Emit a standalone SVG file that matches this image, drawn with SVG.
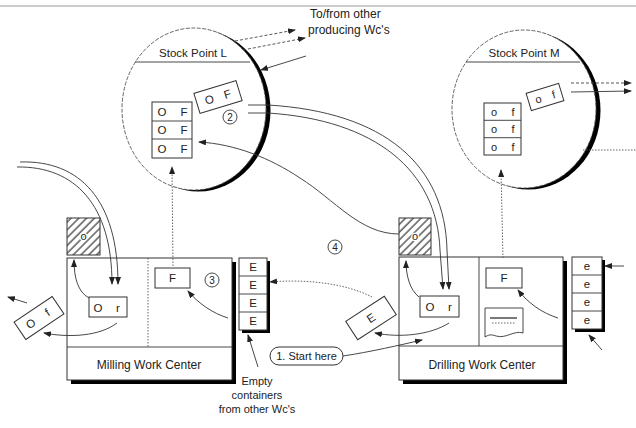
<svg xmlns="http://www.w3.org/2000/svg" width="636" height="428" viewBox="0 0 636 428">
<style>
text{font-family:"Liberation Sans",Arial,sans-serif;fill:#222;}
.lbl{font-size:11.5px;}
.big{font-size:12px;}
.sm{font-size:11px;}
.box{fill:#fff;stroke:#333;stroke-width:1;}
.ln{fill:none;stroke:#333;stroke-width:0.9;}
.dash{fill:none;stroke:#444;stroke-width:0.9;stroke-dasharray:3 2;}
.dot{fill:none;stroke:#555;stroke-width:0.9;stroke-dasharray:1.5 1.5;}
.shadow{fill:#000;}
.num{fill:#fff;stroke:#333;stroke-width:0.9;}
.hl{paint-order:stroke;stroke:#fff;stroke-width:2.5px;}
</style>
<defs>
<marker id="ah" markerUnits="userSpaceOnUse" markerWidth="8" markerHeight="6" refX="7" refY="3" orient="auto">
<path d="M0,0 L8,3 L0,6 z" fill="#222"/>
</marker>
<pattern id="hatch" patternUnits="userSpaceOnUse" width="5.5" height="5.5" patternTransform="rotate(45)">
<rect width="5.5" height="5.5" fill="#fff"/>
<line x1="1" y1="0" x2="1" y2="5.5" stroke="#222" stroke-width="1.1"/>
</pattern>
</defs>
<rect width="636" height="428" fill="#fff"/>
<line x1="0" y1="6" x2="636" y2="6" stroke="#999" stroke-width="1.2"/>

<g id="text-tofrom">
<text class="big" x="310" y="18">To/from other</text>
<text class="big" x="308" y="34">producing Wc's</text>
</g>

<g id="stock-point-l">
<ellipse cx="198.5" cy="110.5" rx="72" ry="81" class="shadow"/>
<ellipse cx="194" cy="109" rx="72" ry="81" fill="#fff" stroke="#555" stroke-width="0.9" stroke-dasharray="4 1.5"/>
<line x1="135" y1="62" x2="250" y2="62" class="ln"/>
<text class="lbl" x="193" y="57" text-anchor="middle">Stock Point L</text>
<rect x="152" y="102" width="40" height="56" class="box"/>
<line x1="152" y1="121" x2="192" y2="121" class="ln"/>
<line x1="152" y1="139" x2="192" y2="139" class="ln"/>
<text class="lbl" x="162" y="116" text-anchor="middle">O</text>
<text class="lbl" x="184" y="116" text-anchor="middle">F</text>
<text class="lbl" x="162" y="134" text-anchor="middle">O</text>
<text class="lbl" x="184" y="134" text-anchor="middle">F</text>
<text class="lbl" x="162" y="153" text-anchor="middle">O</text>
<text class="lbl" x="184" y="153" text-anchor="middle">F</text>
<g transform="translate(218,97) rotate(-17)">
<rect x="-22" y="-10.5" width="44" height="21" class="box"/>
<text class="lbl" x="-9" y="4" text-anchor="middle">O</text>
<text class="lbl" x="10" y="4" text-anchor="middle">F</text>
</g>
<circle cx="230" cy="117" r="7" class="num"/>
<text x="230" y="121" font-size="10" text-anchor="middle">2</text>
</g>

<g id="stock-point-m">
<ellipse cx="528.5" cy="110.5" rx="72" ry="79" class="shadow"/>
<ellipse cx="524" cy="109" rx="72" ry="79" fill="#fff" stroke="#555" stroke-width="0.9" stroke-dasharray="4 1.5"/>
<line x1="466" y1="62" x2="580" y2="62" class="ln"/>
<text class="lbl" x="524" y="57" text-anchor="middle">Stock Point M</text>
<rect x="484" y="103" width="37" height="52" class="box"/>
<line x1="484" y1="120.3" x2="521" y2="120.3" class="ln"/>
<line x1="484" y1="137.7" x2="521" y2="137.7" class="ln"/>
<text class="sm" x="494" y="116" text-anchor="middle">o</text>
<text class="sm" x="513" y="116" text-anchor="middle">f</text>
<text class="sm" x="494" y="133" text-anchor="middle">o</text>
<text class="sm" x="513" y="133" text-anchor="middle">f</text>
<text class="sm" x="494" y="150.5" text-anchor="middle">o</text>
<text class="sm" x="513" y="150.5" text-anchor="middle">f</text>
<g transform="translate(545,97) rotate(-17)">
<rect x="-17" y="-9" width="34" height="18" class="box"/>
<text class="sm" x="-7" y="4" text-anchor="middle">o</text>
<text class="sm" x="9" y="4" text-anchor="middle">f</text>
</g>
</g>

<g id="milling-work-center">
<rect x="71" y="262" width="165" height="122" class="shadow"/>
<rect x="67" y="258" width="165" height="122" class="box"/>
<line x1="67" y1="347" x2="232" y2="347" class="ln"/>
<line x1="148" y1="258" x2="148" y2="347" class="dot"/>
<text class="big" x="149" y="369" text-anchor="middle">Milling Work Center</text>
<rect x="89" y="297" width="38" height="20" class="box"/>
<text class="lbl" x="98" y="312" text-anchor="middle">O</text>
<text class="lbl" x="118" y="312" text-anchor="middle">r</text>
<rect x="155" y="268" width="35" height="20" class="box"/>
<text class="lbl" x="172.5" y="282" text-anchor="middle">F</text>
<circle cx="212" cy="280" r="7" class="num"/>
<text x="212" y="284" font-size="10" text-anchor="middle">3</text>
</g>

<g id="milling-hatched">
<rect x="67" y="218" width="33" height="37" fill="url(#hatch)" stroke="#333" stroke-width="1"/>
<text class="sm hl" x="83.5" y="240" text-anchor="middle">o</text>
</g>

<g id="milling-out">
<g transform="translate(39,318) rotate(-34)">
<rect x="-23" y="-10.5" width="46" height="21" class="box"/>
<text class="lbl" x="-10" y="4" text-anchor="middle">O</text>
<text class="lbl" x="10" y="4" text-anchor="middle">f</text>
</g>
</g>

<g id="empty-stack-milling">
<rect x="242" y="261" width="28" height="72" class="shadow"/>
<rect x="239" y="258" width="28" height="72" class="box"/>
<line x1="239" y1="276" x2="267" y2="276" class="ln"/>
<line x1="239" y1="294" x2="267" y2="294" class="ln"/>
<line x1="239" y1="312" x2="267" y2="312" class="ln"/>
<text class="lbl" x="253" y="271" text-anchor="middle">E</text>
<text class="lbl" x="253" y="289" text-anchor="middle">E</text>
<text class="lbl" x="253" y="307" text-anchor="middle">E</text>
<text class="lbl" x="253" y="325" text-anchor="middle">E</text>
</g>

<g id="empty-text">
<text class="sm" x="257" y="385" text-anchor="middle">Empty</text>
<text class="sm" x="257" y="399" text-anchor="middle">containers</text>
<text class="sm" x="257" y="413" text-anchor="middle">from other Wc's</text>
</g>

<g id="start-here">
<rect x="270" y="347" width="73" height="18" rx="9" class="box"/>
<text class="sm" x="306.5" y="360" text-anchor="middle">1. Start here</text>
</g>

<g id="step-4">
<circle cx="335" cy="247" r="7" class="num"/>
<text x="335" y="251" font-size="10" text-anchor="middle">4</text>
</g>

<g id="empty-e-box">
<g transform="translate(371,318) rotate(-33)">
<rect x="-23" y="-11" width="46" height="22" class="box"/>
<text class="lbl" x="0" y="4" text-anchor="middle">E</text>
</g>
</g>

<g id="drilling-hatched">
<rect x="399" y="218" width="32" height="37" fill="url(#hatch)" stroke="#333" stroke-width="1"/>
<text class="sm hl" x="415" y="240" text-anchor="middle">o</text>
</g>

<g id="drilling-work-center">
<rect x="403" y="261" width="164" height="123" class="shadow"/>
<rect x="399" y="257" width="164" height="123" class="box"/>
<line x1="399" y1="346" x2="563" y2="346" class="ln"/>
<line x1="479" y1="257" x2="479" y2="346" class="ln"/>
<text class="big" x="482" y="369" text-anchor="middle">Drilling Work Center</text>
<rect x="420" y="296" width="39" height="21" class="box"/>
<text class="lbl" x="430" y="311" text-anchor="middle">O</text>
<text class="lbl" x="450" y="311" text-anchor="middle">r</text>
<rect x="486" y="268" width="36" height="20" class="box"/>
<text class="lbl" x="504" y="282" text-anchor="middle">F</text>
<path d="M485 308 L523 308 L523 333 C514 330 506 339 496 336 C491 334 488 335 485 337 Z" fill="#fff" stroke="#333" stroke-width="0.9"/>
<line x1="490" y1="318" x2="517" y2="318" stroke="#222" stroke-width="1.2"/>
<line x1="492" y1="323" x2="515" y2="323" class="dot"/>
</g>

<g id="empty-stack-drilling">
<rect x="575" y="260" width="30" height="72" class="shadow"/>
<rect x="572" y="257" width="30" height="72" class="box"/>
<line x1="572" y1="275" x2="602" y2="275" class="ln"/>
<line x1="572" y1="293" x2="602" y2="293" class="ln"/>
<line x1="572" y1="311" x2="602" y2="311" class="ln"/>
<text class="lbl" x="587" y="270" text-anchor="middle">e</text>
<text class="lbl" x="587" y="288" text-anchor="middle">e</text>
<text class="lbl" x="587" y="306" text-anchor="middle">e</text>
<text class="lbl" x="587" y="324" text-anchor="middle">e</text>
</g>

<g id="connectors">
<path d="M235 41 L295 30" class="dash" marker-end="url(#ah)"/>
<path d="M243 50 L305 38" class="dash" marker-end="url(#ah)"/>
<path d="M306 56 L261 70" class="ln" marker-end="url(#ah)"/>
<path d="M248 105 L268 105 C385 112 445 165 447 250 L449 289" class="ln" marker-end="url(#ah)"/>
<path d="M248 113 L268 113 C375 120 437 170 440 250 L443 289" class="ln" marker-end="url(#ah)"/>
<path d="M20 162 C80 160 118 200 118 284" class="ln" marker-end="url(#ah)"/>
<path d="M17 167 C75 166 112 205 112 284" class="ln" marker-end="url(#ah)"/>
<path d="M89 298 C78 292 74 278 74 260" class="ln" marker-end="url(#ah)"/>
<path d="M117 323 C100 336 70 338 44 333" class="ln" marker-end="url(#ah)"/>
<path d="M27 303 L8 297" class="ln" marker-end="url(#ah)"/>
<path d="M228 318 C212 313 198 303 188 291" class="ln" marker-end="url(#ah)"/>
<path d="M173 266 L172 167" class="dot" marker-end="url(#ah)"/>
<path d="M372 297 C345 283 305 279 270 282" class="dot" marker-end="url(#ah)"/>
<path d="M419 297 C410 290 406 276 406 261" class="ln" marker-end="url(#ah)"/>
<path d="M449 323 C430 335 400 338 375 333" class="ln" marker-end="url(#ah)"/>
<path d="M343 356 C370 352 400 345 422 340" class="ln" marker-end="url(#ah)"/>
<path d="M558 318 C542 313 528 303 518 290" class="ln" marker-end="url(#ah)"/>
<path d="M503 258 L501 170" class="dot" marker-end="url(#ah)"/>
<path d="M399 234 C360 234 335 200 300 178 C270 158 235 144 199 142" class="ln" marker-end="url(#ah)"/>
<path d="M571 83 L631 83" class="dash" marker-end="url(#ah)"/>
<path d="M571 92 L631 91" class="ln" marker-end="url(#ah)"/>
<path d="M583 150 L636 150" class="dot"/>
<path d="M624 266 L605 266" class="ln" marker-end="url(#ah)"/>
<path d="M602 350 L589 335" class="ln" marker-end="url(#ah)"/>
<path d="M258 367 L248 335" class="ln" marker-end="url(#ah)"/>
</g>
</svg>
